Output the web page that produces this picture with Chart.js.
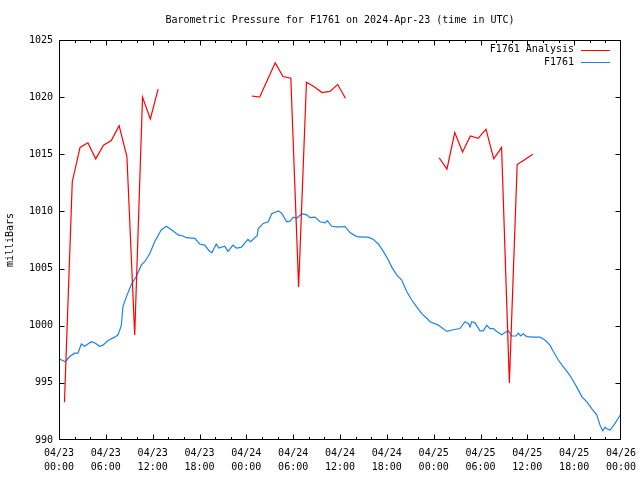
<!DOCTYPE html>
<html>
<head>
<meta charset="utf-8">
<title>Barometric Pressure for F1761</title>
<script src="https://cdn.jsdelivr.net/npm/chart.js@4.4.1/dist/chart.umd.min.js"></script>
<style>
  body { margin: 0; background: #fff; }
  #wrap { width: 640px; height: 480px; }
</style>
</head>
<body>
<div id="wrap"><canvas id="myChart" width="640" height="480"></canvas></div>
<script>
// hours since 04/23 00:00 UTC, null = gap in the analysis
const analysisHours = [0.7, 1.7, 2.7, 3.7, 4.7, 5.7, 6.7, 7.7, 8.7, 9.7, 10.7, 11.7, 12.7,
  18,
  24.7, 25.7, 26.7, 27.7, 28.7, 29.7, 30.7, 31.7, 32.7, 33.7, 34.7, 35.7, 36.7,
  42,
  48.7, 49.7, 50.7, 51.7, 52.7, 53.7, 54.7, 55.7, 56.7, 57.7, 58.7, 59.7, 60.7];
const analysisValues = [993.3, 1012.6, 1015.6, 1016.0, 1014.6, 1015.8, 1016.2, 1017.5, 1014.8, 999.2, 1020.0, 1018.1, 1020.7,
  null,
  1020.1, 1020.0, 1021.5, 1023.0, 1021.8, 1021.65, 1003.4, 1021.3, 1020.9, 1020.4, 1020.5, 1021.1, 1019.9,
  null,
  1014.7, 1013.7, 1016.9, 1015.2, 1016.6, 1016.4, 1017.2, 1014.6, 1015.6, 995.0, 1014.1, 1014.55, 1015.0];

const stationHours = [0.0, 0.81, 1.37, 2.01, 2.43, 2.86, 3.29, 4.14, 4.57, 5.21, 5.64, 6.28, 7.14, 7.56, 7.98,
  8.2, 8.62, 9.26, 9.9, 10.54, 10.98, 11.62, 12.26, 13.11, 13.75, 14.6, 15.25, 15.89, 16.31, 17.39,
  18.03, 18.67, 19.31, 19.6, 20.15, 20.46, 21.23, 21.65, 22.29, 22.71, 23.35, 24.21, 24.56, 25.4, 25.53,
  26.17, 26.81, 27.25, 28.1, 28.53, 29.17, 29.59, 30.02, 30.45, 31.09, 31.73, 32.16, 32.8, 33.44, 34.08,
  34.37, 34.94, 35.58, 36.22, 36.64, 37.28, 38.14, 38.99, 39.63, 40.27, 40.91, 41.55, 42.19, 42.62, 43.26,
  43.9, 44.55, 45.19, 45.83, 46.47, 47.11, 47.53, 48.59, 49.67, 50.51, 51.37, 52.01, 52.44, 52.66, 52.87,
  53.3, 53.94, 54.36, 54.8, 55.22, 55.64, 56.08, 56.72, 57.14, 57.56, 58.0, 58.55, 58.84, 59.15, 59.48,
  59.92, 60.76, 61.62, 62.26, 62.9, 63.33, 63.97, 64.61, 65.25, 65.68, 66.32, 66.97, 67.61, 68.25, 68.89,
  69.31, 69.66, 69.95, 70.17, 70.59, 71.23, 71.65, 72.0];
const stationValues = [997.1, 996.85, 997.3, 997.6, 997.6, 998.4, 998.2, 998.6, 998.5, 998.2, 998.3, 998.7, 999.0, 999.2, 1000.0,
  1001.7, 1002.5, 1003.6, 1004.3, 1005.3, 1005.6, 1006.3, 1007.35, 1008.4, 1008.7, 1008.3, 1007.95, 1007.85, 1007.7, 1007.65,
  1007.15, 1007.05, 1006.5, 1006.4, 1007.15, 1006.8, 1006.95, 1006.5, 1007.05, 1006.8, 1006.85, 1007.55, 1007.35, 1007.9, 1008.5,
  1008.95, 1009.1, 1009.8, 1010.05, 1009.85, 1009.1, 1009.15, 1009.5, 1009.4, 1009.8, 1009.7, 1009.45, 1009.5, 1009.1, 1009.0,
  1009.2, 1008.7, 1008.65, 1008.65, 1008.7, 1008.15, 1007.8, 1007.75, 1007.75, 1007.55, 1007.15, 1006.5, 1005.75, 1005.15, 1004.45,
  1004.0, 1003.0, 1002.25, 1001.65, 1001.05, 1000.65, 1000.35, 1000.05, 999.5, 999.65, 999.75, 1000.35, 1000.2, 999.9, 1000.35,
  1000.25, 999.55, 999.55, 1000.05, 999.75, 999.75, 999.5, 999.2, 999.4, 999.55, 999.1, 999.1, 999.35, 999.1, 999.3,
  999.05, 999.0, 999.0, 998.75, 998.3, 997.75, 997.0, 996.4, 995.85, 995.4, 994.65, 993.8, 993.35, 992.75, 992.2,
  991.3, 990.8, 991.1, 991.0, 990.85, 991.45, 991.9, 992.3];

const dayLabels = ['04/23', '04/24', '04/25', '04/26'];
const hourLabels = ['00:00', '06:00', '12:00', '18:00'];
const chartTitle = 'Barometric Pressure for F1761 on 2024-Apr-23 (time in UTC)';

const monoFont = "'DejaVu Sans Mono', 'Liberation Mono', monospace";

function toPoints(xs, ys) {
  return xs.map(function(h, i) { return { x: h, y: ys[i] }; });
}

// gnuplot style frame with ticks pointing inwards
const frameTicks = {
  id: 'frameTicks',
  afterDatasetsDraw(chart) {
    const ctx = chart.ctx;
    const a = chart.chartArea;
    const xs = chart.scales.x, ys = chart.scales.y;
    const l = Math.round(a.left) + 0.5, r = Math.round(a.right) - 0.5;
    const t = Math.round(a.top) + 0.5, b = Math.round(a.bottom) - 0.5;
    ctx.save();
    ctx.strokeStyle = '#000';
    ctx.lineWidth = 1;
    ctx.beginPath();
    ctx.rect(l, t, r - l, b - t);
    for (let h = 0; h <= 72; h += 2) {
      let px = Math.round(xs.getPixelForValue(h)) + 0.5;
      if (h === 72) px = r;
      let len = h % 6 === 0 ? 5 : 2.5;
      ctx.moveTo(px, b); ctx.lineTo(px, b - len);
      ctx.moveTo(px, t); ctx.lineTo(px, t + len);
    }
    for (let v = 990; v <= 1025; v += 5) {
      let py = Math.round(ys.getPixelForValue(v)) + 0.5;
      if (v === 990) py = b;
      ctx.moveTo(l, py); ctx.lineTo(l + 5, py);
      ctx.moveTo(r, py); ctx.lineTo(r - 5, py);
    }
    ctx.stroke();
    ctx.restore();
  }
};

// title centred over the plot, and the key in the top right corner
const titleKey = {
  id: 'titleKey',
  afterDraw(chart) {
    const ctx = chart.ctx;
    const a = chart.chartArea;
    ctx.save();
    ctx.font = '10px ' + monoFont;
    ctx.fillStyle = '#000';
    ctx.textBaseline = 'middle';
    ctx.textAlign = 'center';
    ctx.fillText(chartTitle, (a.left + a.right) / 2, 20);

    ctx.textAlign = 'right';
    chart.data.datasets.forEach(function(ds, i) {
      let y = 49.5 + i * 12.5;
      ctx.fillStyle = '#000';
      ctx.fillText(ds.label, 574, y);
      ctx.strokeStyle = ds.borderColor;
      ctx.lineWidth = 1;
      ctx.beginPath();
      ctx.moveTo(581, Math.round(y) + 0.5);
      ctx.lineTo(610, Math.round(y) + 0.5);
      ctx.stroke();
    });
    ctx.restore();
  }
};

new Chart(document.getElementById('myChart'), {
  type: 'line',
  data: {
    datasets: [{
      label: 'F1761 Analysis',
      data: toPoints(analysisHours, analysisValues),
      borderColor: '#ff0000',
      borderWidth: 1.2,
      pointRadius: 0,
      spanGaps: false,
      tension: 0
    }, {
      label: 'F1761',
      data: toPoints(stationHours, stationValues),
      borderColor: '#1e82e6',
      borderWidth: 1.2,
      pointRadius: 0,
      tension: 0
    }]
  },
  options: {
    responsive: false,
    animation: false,
    layout: { padding: { left: 0, right: 19, top: 40, bottom: 0 } },
    plugins: {
      legend: { display: false },
      tooltip: { enabled: false },
      title: { display: false }
    },
    scales: {
      x: {
        type: 'linear',
        min: 0,
        max: 72,
        grid: { display: false, drawTicks: false },
        border: { display: false },
        afterFit: function(scale) {
          scale.height = 40;
          scale.paddingLeft = 0;
          scale.paddingRight = 0;
        },
        ticks: {
          stepSize: 6,
          autoSkip: false,
          maxRotation: 0,
          padding: 6,
          color: '#000',
          font: { family: monoFont, size: 10, lineHeight: 1.4 },
          callback: function(v) {
            return [dayLabels[Math.floor(v / 24)], hourLabels[(v % 24) / 6]];
          }
        }
      },
      y: {
        min: 990,
        max: 1025,
        grid: { display: false, drawTicks: false },
        border: { display: false },
        afterFit: function(scale) {
          scale.width = 59;
          scale.paddingTop = 0;
          scale.paddingBottom = 0;
        },
        title: {
          display: true,
          text: 'milliBars',
          color: '#000',
          font: { family: monoFont, size: 10, lineHeight: 1.2 },
          padding: { top: 4, bottom: 0 }
        },
        ticks: {
          stepSize: 5,
          padding: 6,
          color: '#000',
          font: { family: monoFont, size: 10 },
          callback: function(v) { return String(v); }
        }
      }
    }
  },
  plugins: [frameTicks, titleKey]
});
</script>
</body>
</html>
